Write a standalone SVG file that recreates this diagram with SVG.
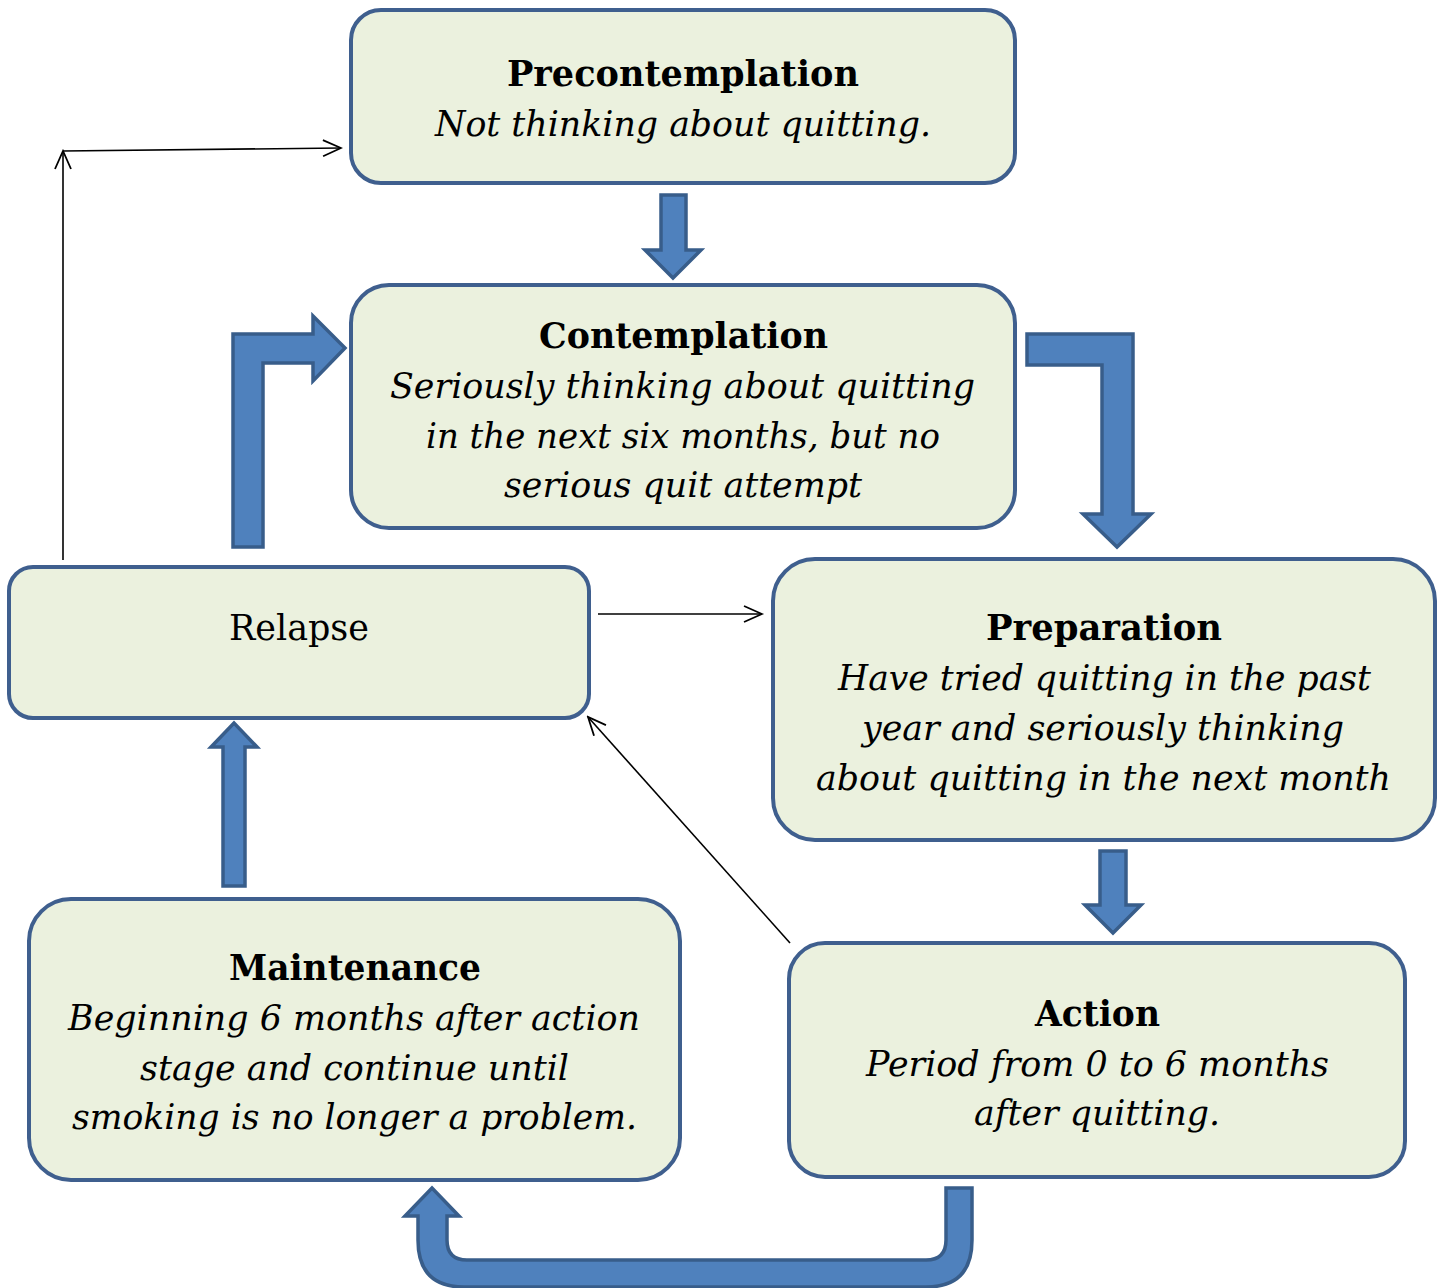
<svg xmlns="http://www.w3.org/2000/svg" width="1442" height="1288" viewBox="0 0 1442 1288">
<style>
.box{fill:#ebf1de;stroke:#3f5f8e;stroke-width:4}
.blk{fill:#4f81bd;stroke:#385d8a;stroke-width:3.5;stroke-linejoin:miter}
.thin{fill:none;stroke:#000;stroke-width:1.6;marker-end:url(#open)}
text{font-family:"DejaVu Serif","Liberation Serif",serif;font-size:35px;fill:#000;text-anchor:middle}
.t{font-weight:bold}
.i{font-style:italic;font-size:36px}
</style>
<defs>
<marker id="open" markerUnits="userSpaceOnUse" viewBox="0 0 22 20" markerWidth="22" markerHeight="20" refX="20" refY="10" orient="auto">
<path d="M2,2 L20,10 L2,18" fill="none" stroke="#000" stroke-width="1.8"/>
</marker>
</defs>
<g id="connectors">
<path class="blk" d="M661,195 L686,195 L686,250 L701,250 L673,278 L645,250 L661,250 Z"/>
<path class="blk" d="M233,547 L233,334 L313,334 L313,316 L345,348 L313,381 L313,363 L263,363 L263,547 Z"/>
<path class="blk" d="M1027,334 L1133,334 L1133,514 L1151,514 L1117,547 L1083,514 L1102,514 L1102,365 L1027,365 Z"/>
<path class="blk" d="M1100,851 L1126,851 L1126,905 L1141,905 L1113,933 L1085,905 L1100,905 Z"/>
<path class="blk" d="M223,886 L223,747 L211,747 L234,723 L257,747 L245,747 L245,886 Z"/>
<path class="blk" d="M946,1188 L972,1188 L972,1240 Q972,1287 926,1287 L464,1287 Q418,1287 418,1240 L418,1216 L405,1216 L432,1188 L459,1216 L447,1216 L447,1240 Q447,1260 467,1260 L926,1260 Q946,1260 946,1240 Z"/>
<line class="thin" x1="63" y1="560" x2="63" y2="151"/>
<line class="thin" x1="63" y1="151" x2="341" y2="148"/>
<line class="thin" x1="598" y1="614" x2="762" y2="614"/>
<line class="thin" x1="790" y1="943" x2="588" y2="717"/>
</g>
<g id="precontemplation">
<rect class="box" x="351" y="10" width="664" height="173" rx="30"/>
<text class="t" x="683" y="86" textLength="352" lengthAdjust="spacingAndGlyphs">Precontemplation</text>
<text class="i" x="683" y="136" textLength="496" lengthAdjust="spacingAndGlyphs">Not thinking about quitting.</text>
</g>
<g id="contemplation">
<rect class="box" x="351" y="285" width="664" height="243" rx="38"/>
<text class="t" x="683.5" y="348" textLength="289" lengthAdjust="spacingAndGlyphs">Contemplation</text>
<text class="i" x="682.5" y="398" textLength="585" lengthAdjust="spacingAndGlyphs">Seriously thinking about quitting</text>
<text class="i" x="683" y="448" textLength="514" lengthAdjust="spacingAndGlyphs">in the next six months, but no</text>
<text class="i" x="683" y="497" textLength="358" lengthAdjust="spacingAndGlyphs">serious quit attempt</text>
</g>
<g id="relapse">
<rect class="box" x="9" y="567" width="580" height="151" rx="24"/>
<text x="299" y="640" textLength="140" lengthAdjust="spacingAndGlyphs">Relapse</text>
</g>
<g id="preparation">
<rect class="box" x="773" y="559" width="662" height="281" rx="42"/>
<text class="t" x="1104" y="640" textLength="236" lengthAdjust="spacingAndGlyphs">Preparation</text>
<text class="i" x="1104.5" y="690" textLength="533" lengthAdjust="spacingAndGlyphs">Have tried quitting in the past</text>
<text class="i" x="1103" y="740" textLength="482" lengthAdjust="spacingAndGlyphs">year and seriously thinking</text>
<text class="i" x="1103.5" y="790" textLength="575" lengthAdjust="spacingAndGlyphs">about quitting in the next month</text>
</g>
<g id="maintenance">
<rect class="box" x="29" y="899" width="651" height="281" rx="42"/>
<text class="t" x="355" y="980" textLength="252" lengthAdjust="spacingAndGlyphs">Maintenance</text>
<text class="i" x="354" y="1030" textLength="572" lengthAdjust="spacingAndGlyphs">Beginning 6 months after action</text>
<text class="i" x="354.5" y="1080" textLength="429" lengthAdjust="spacingAndGlyphs">stage and continue until</text>
<text class="i" x="354.5" y="1129" textLength="565" lengthAdjust="spacingAndGlyphs">smoking is no longer a problem.</text>
</g>
<g id="action">
<rect class="box" x="789" y="943" width="616" height="234" rx="36"/>
<text class="t" x="1097.5" y="1026" textLength="125" lengthAdjust="spacingAndGlyphs">Action</text>
<text class="i" x="1097.5" y="1076" textLength="463" lengthAdjust="spacingAndGlyphs">Period from 0 to 6 months</text>
<text class="i" x="1097" y="1125" textLength="246" lengthAdjust="spacingAndGlyphs">after quitting.</text>
</g>
</svg>
